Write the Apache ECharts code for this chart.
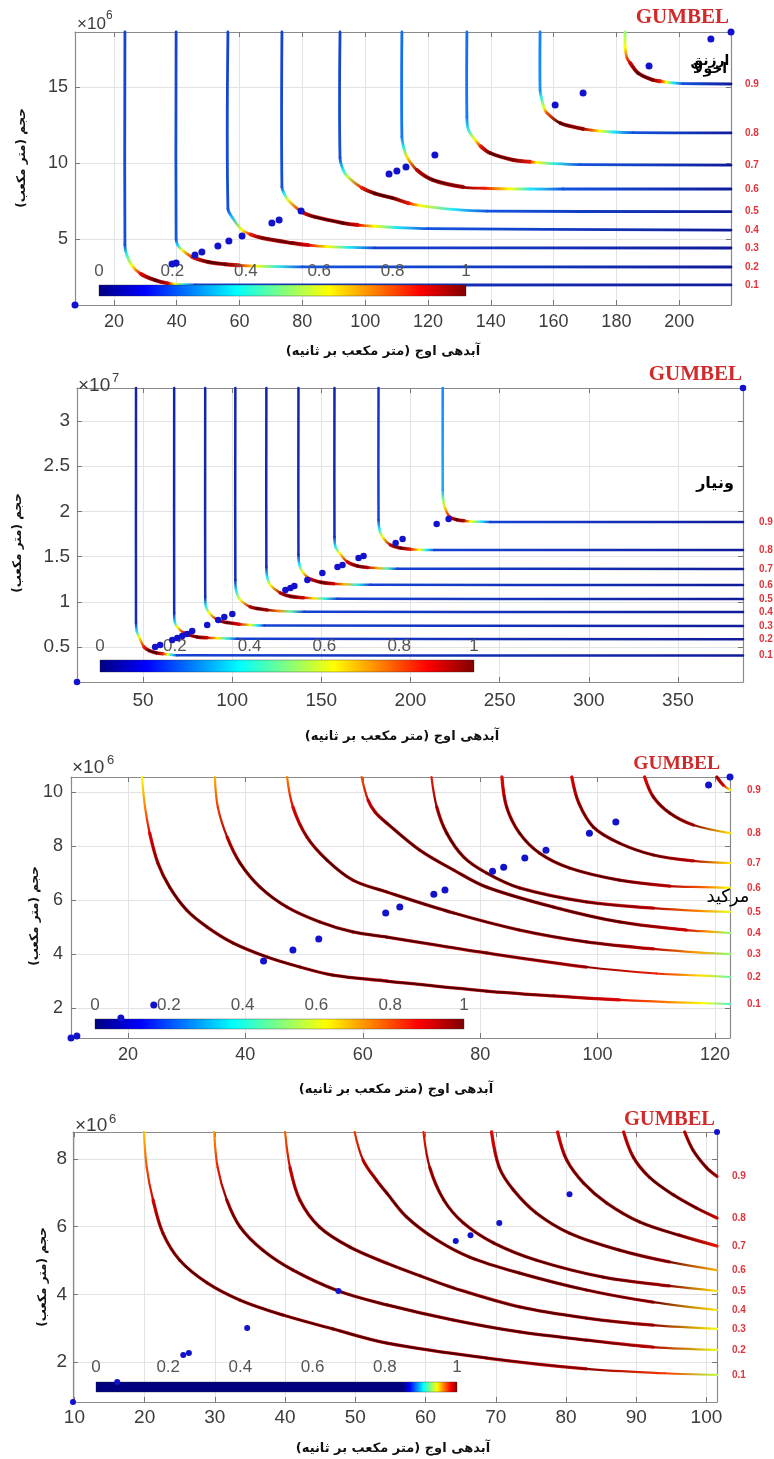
<!DOCTYPE html>
<html><head><meta charset="utf-8">
<script src="https://cdn.jsdelivr.net/npm/echarts@6/dist/echarts.min.js"></script>
<style>html,body{margin:0;padding:0;background:#fff}#c{width:774px;height:1459px}</style>
</head><body><div id="c"></div>
<script>
// ---------------- DATA ----------------
const LEVELS = ['0.1','0.2','0.3','0.4','0.5','0.6','0.7','0.8','0.9'];
const CB_TICKS = [0, 0.2, 0.4, 0.6, 0.8, 1];
const X_NAME = 'آبدهی اوج (متر مکعب بر ثانیه)';
const Y_NAME = 'حجم (متر مکعب)';

// Panel 1  (y in 10^6 m3) ; curve points: [x, y, colour value]
const P1_X_TICKS = [20,40,60,80,100,120,140,160,180,200];
const P1_Y_TICKS = [5,10,15];
const P1_POINTS = [[7.6,0.66],[38.5,3.36],[39.8,3.42],[45.8,3.95],[48.0,4.15],[53.1,4.54],[56.6,4.87],[60.8,5.2],[70.3,6.05],[72.6,6.25],[79.6,6.84],[107.6,9.28],[110.1,9.48],[113.0,9.74],[122.2,10.53],[160.5,13.82],[169.4,14.6],[190.4,16.38],[210.1,18.16],[216.5,18.62]];
const P1_CURVES = [
 [[23.5,18.62,.15],[23.5,4.6,.17],[24.0,4.0,.4],[25.8,3.23,.62],[28.6,2.70,.88],[33.1,2.30,1],[37.2,2.08,.9],[39.4,2.03,.62],[42.6,2.0,.38],[46,1.98,.15],[216.5,1.98,.05]],
 [[39.8,18.62,.15],[39.8,5.0,.18],[40.3,4.6,.35],[41.7,4.28,.6],[44.9,3.82,.85],[50.0,3.49,1],[55.4,3.34,.98],[60,3.27,.85],[65,3.22,.63],[72,3.19,.4],[80,3.17,.18],[216.5,3.16,.05]],
 [[56.3,18.62,.15],[56.3,7.0,.17],[57.6,6.45,.32],[60.8,5.59,.62],[63.5,5.3,.85],[67.2,5.07,.97],[76.7,4.74,.98],[82,4.6,.88],[88,4.5,.63],[95,4.45,.38],[103,4.42,.15],[216.5,4.41,.05]],
 [[73.5,18.62,.15],[73.5,8.42,.17],[74.2,8.0,.38],[75.4,7.57,.6],[79.9,6.78,.88],[84,6.45,1],[93,6.05,1],[97.7,5.92,.88],[103,5.84,.62],[110,5.76,.38],[120,5.68,.18],[216.5,5.59,.05]],
 [[92,18.62,.15],[92,10.33,.17],[93,9.55,.38],[94.5,9.08,.55],[99,8.36,.85],[103,8.0,1],[108.6,7.70,1],[114,7.35,.85],[117.5,7.2,.63],[128,6.95,.38],[138.8,6.84,.18],[216.5,6.8,.05]],
 [[111.7,18.62,.22],[111.7,11.71,.24],[112.3,11.0,.4],[113.3,10.4,.65],[116.5,9.54,.92],[121.6,8.88,1],[131.2,8.42,.95],[138,8.34,.85],[146.1,8.30,.62],[152.5,8.29,.38],[163,8.29,.18],[216.5,8.29,.05]],
 [[132.4,18.62,.22],[132.4,13.03,.24],[132.9,12.17,.4],[135.0,11.52,.62],[136.8,11.1,.85],[139.8,10.66,1],[147.1,10.2,.97],[152.5,10.08,.85],[154.7,10.04,.63],[160,9.96,.4],[168.4,9.9,.18],[216.5,9.86,.05]],
 [[155.7,18.62,.25],[155.7,14.8,.27],[156.1,14.3,.4],[157.0,13.6,.6],[157.9,13.29,.8],[162.1,12.63,1],[169.4,12.24,.95],[172,12.16,.8],[174.8,12.1,.62],[178.9,12.04,.38],[185.3,12.0,.18],[216.5,11.98,.05]],
 [[182.8,18.62,.5],[182.8,17.6,.62],[183.4,16.9,.8],[184.4,16.58,.9],[186.9,15.92,1],[191.7,15.46,.97],[194,15.38,.85],[196,15.32,.62],[198,15.27,.38],[201.2,15.23,.18],[216.5,15.2,.05]]
];

// Panel 2  (y in 10^7 m3)
const P2_X_TICKS = [50,100,150,200,250,300,350];
const P2_Y_TICKS = [0.5,1,1.5,2,2.5,3];
const P2_POINTS = [[13,0.113],[56.8,0.500],[59.6,0.522],[66.4,0.578],[69.2,0.600],[72.0,0.622],[74.8,0.644],[77.6,0.677],[86.0,0.744],[92.2,0.799],[95.6,0.832],[100.1,0.865],[129.9,1.131],[132.7,1.153],[134.9,1.175],[142.2,1.241],[150.6,1.319],[159.1,1.385],[161.9,1.407],[170.9,1.485],[173.7,1.507],[191.7,1.651],[195.6,1.695],[214.7,1.861],[221.4,1.916],[386.5,3.365]];
const P2_CURVES = [
 [[46.1,3.365,.08],[46.1,0.77,.1],[46.5,0.68,.35],[47.8,0.611,.6],[50.6,0.50,.85],[53.5,0.46,1],[57.5,0.435,1],[61,0.425,.85],[64,0.418,.6],[66,0.414,.38],[69.2,0.41,.15],[386.5,0.405,.05]],
 [[67.5,3.365,.08],[67.5,0.876,.1],[67.8,0.78,.35],[69.2,0.721,.6],[73.1,0.655,.88],[80.4,0.611,1],[86,0.603,.9],[91.7,0.598,.65],[97,0.594,.4],[102.9,0.591,.15],[386.5,0.585,.05]],
 [[84.9,3.365,.08],[84.9,1.053,.1],[85.3,0.95,.38],[87.2,0.876,.62],[91.7,0.799,.9],[97.3,0.77,1],[104,0.752,.88],[110.2,0.744,.6],[114,0.74,.38],[118.1,0.737,.15],[386.5,0.733,.05]],
 [[101.8,3.365,.08],[101.8,1.241,.1],[102.3,1.12,.38],[104.6,1.02,.62],[110.2,0.943,.92],[114.1,0.925,1],[119.7,0.909,.95],[126,0.898,.75],[132.7,0.892,.45],[140.5,0.889,.15],[386.5,0.887,.05]],
 [[119.2,3.365,.08],[119.2,1.385,.1],[119.7,1.27,.38],[121.4,1.186,.62],[127.0,1.098,.92],[132.7,1.06,1],[140,1.045,.9],[146,1.038,.65],[151.8,1.035,.4],[159.1,1.033,.15],[386.5,1.031,.05]],
 [[137.2,3.365,.08],[137.2,1.518,.1],[137.7,1.41,.38],[139.4,1.33,.62],[143.9,1.252,.9],[150,1.215,1],[157,1.2,.9],[163,1.194,.7],[170,1.19,.4],[177.6,1.188,.15],[386.5,1.186,.05]],
 [[157.4,3.365,.08],[157.4,1.717,.1],[157.9,1.61,.38],[160.2,1.54,.62],[164.7,1.44,.9],[170.3,1.396,1],[176,1.38,.92],[182,1.372,.7],[187.2,1.368,.42],[192.8,1.366,.15],[386.5,1.363,.05]],
 [[182.1,3.365,.12],[182.1,1.905,.15],[182.6,1.80,.38],[184.3,1.717,.62],[188.8,1.628,.92],[194.5,1.595,1],[200,1.582,.85],[205,1.575,.62],[209,1.574,.38],[213.6,1.573,.15],[386.5,1.573,.05]],
 [[218.1,3.365,.26],[218.1,2.237,.3],[218.4,2.12,.5],[219.2,2.049,.65],[222.0,1.938,.88],[226,1.908,1],[230,1.896,.92],[233.8,1.889,.62],[239.4,1.885,.38],[245,1.884,.15],[386.5,1.883,.05]]
];

// Panel 3  (y in 10^6 m3)
const P3_X_TICKS = [20,40,60,80,100,120];
const P3_Y_TICKS = [2,4,6,8,10];
const P3_POINTS = [[10.3,0.89],[11.3,0.96],[18.8,1.63],[24.4,2.11],[43.1,3.74],[48.1,4.15],[52.5,4.56],[63.9,5.52],[66.3,5.74],[72.1,6.22],[74.0,6.37],[82.1,7.07],[84.0,7.22],[87.6,7.56],[91.2,7.85],[98.6,8.48],[103.1,8.89],[118.9,10.26],[122.55,10.56]];
const P3_CURVES = [
 [[22.4,10.56,.62],[22.9,9.45,.75],[23.7,8.48,.88],[25.1,7.37,.97],[27.1,6.48,1],[30.0,5.63,1],[33.5,5.0,1],[37.9,4.41,1],[43.7,3.89,1],[49.3,3.52,1],[54.9,3.22,1],[64.1,3.0,1],[81.1,2.63,1],[92.5,2.45,.97],[103.7,2.30,.88],[112,2.22,.75],[118,2.18,.62],[122.55,2.15,.42]],
 [[34.8,10.56,.7],[35.3,9.45,.82],[36.9,8.33,.92],[39.1,7.37,1],[42.5,6.48,1],[47.1,5.74,1],[52.7,5.19,1],[58.3,4.82,1],[64.1,4.63,1],[81.1,4.04,1],[98.1,3.52,.95],[110,3.28,.85],[118,3.2,.65],[122.55,3.15,.45]],
 [[47.1,10.56,.75],[48.1,9.45,.88],[50.5,8.33,.97],[53.9,7.48,1],[58.3,6.74,1],[64.1,6.3,1],[75.5,5.52,1],[86.7,4.89,1],[98.1,4.45,1],[109.5,4.19,.92],[117,4.06,.72],[122.55,4.0,.5]],
 [[59.8,10.56,.8],[60.9,9.70,.9],[62.1,9.26,.95],[64.1,8.85,1],[69.7,7.85,1],[75.5,7.11,1],[81.1,6.48,1],[92.5,5.74,1],[103.7,5.19,1],[115.1,4.89,.9],[119,4.83,.72],[122.55,4.78,.5]],
 [[71.7,10.56,.85],[72.6,9.45,.95],[74.3,8.48,1],[77.2,7.59,1],[81.1,7.0,1],[86.7,6.45,1],[98.1,5.93,1],[109.5,5.70,.92],[117,5.6,.75],[122.55,5.56,.6]],
 [[83.7,10.56,.87],[84.5,9.45,.97],[86.7,8.48,1],[90.1,7.74,1],[95.2,7.19,1],[103.7,6.74,1],[112.3,6.52,.92],[118,6.48,.78],[122.55,6.45,.62]],
 [[95.6,10.56,.88],[96.8,9.59,.97],[99.3,8.70,1],[103.7,8.11,1],[109.5,7.67,1],[116.3,7.45,.92],[122.55,7.37,.65]],
 [[108.0,10.56,.88],[109.5,9.82,.97],[112.3,9.22,1],[116.3,8.78,.95],[122.55,8.48,.65]],
 [[120.3,10.56,.95],[121.4,10.26,.9],[122.55,10.08,.62]]
];

// Panel 4  (y in 10^6 m3)
const P4_X_TICKS = [10,20,30,40,50,60,70,80,90,100];
const P4_Y_TICKS = [2,4,6,8];
const P4_POINTS = [[9.8,0.82],[16.1,1.41],[25.5,2.21],[26.3,2.27],[34.6,3.01],[47.6,4.10],[64.3,5.58],[66.4,5.75],[70.5,6.11],[80.5,6.96],[101.5,8.8]];
const P4_CURVES = [
 [[19.9,8.80,.68],[20.3,7.75,.8],[21.2,6.79,.9],[22.6,5.81,.97],[25.0,5.01,1],[28.9,4.34,1],[33.6,3.83,1],[39.7,3.39,1],[46.8,2.98,1],[54.5,2.56,1],[68.7,2.12,1],[82.9,1.8,.95],[94,1.67,.82],[101.5,1.62,.55]],
 [[29.9,8.80,.72],[30.4,7.75,.85],[31.7,6.79,.95],[33.6,5.99,1],[36.8,5.31,1],[41.1,4.72,1],[47.6,4.10,1],[54.5,3.69,1],[64.0,3.24,1],[73.4,2.89,1],[82.9,2.65,1],[92.4,2.44,.92],[101.5,2.36,.6]],
 [[40.0,8.80,.78],[40.7,7.75,.9],[42.1,6.79,.97],[44.9,5.99,1],[49.2,5.40,1],[54.5,4.92,1],[59.2,4.55,1],[64.0,4.19,1],[73.4,3.63,1],[82.9,3.30,1],[92.4,3.09,.95],[101.5,2.98,.62]],
 [[49.9,8.80,.82],[51.1,7.97,.92],[53.0,7.38,.97],[54.5,6.99,1],[57.3,6.29,1],[61.6,5.61,1],[66.3,5.10,1],[73.4,4.63,1],[82.9,4.13,1],[92.4,3.77,.97],[101.5,3.54,.65]],
 [[59.7,8.80,.85],[60.6,7.75,.95],[62.6,6.79,1],[65.4,6.11,1],[69.7,5.52,1],[75.8,5.01,1],[85.3,4.51,1],[94.7,4.25,.95],[101.5,4.10,.65]],
 [[69.4,8.80,.87],[70.5,7.75,.97],[72.5,7.09,1],[75.8,6.40,1],[80.5,5.81,1],[87.6,5.31,1],[94.7,4.96,.97],[101.5,4.72,.7]],
 [[78.8,8.80,.88],[80.1,7.97,.97],[82.5,7.29,1],[85.8,6.70,1],[90.5,6.14,1],[96.1,5.75,1],[101.5,5.43,.85]],
 [[88.2,8.80,.9],[89.6,8.05,.97],[91.9,7.46,1],[95.3,6.94,1],[98.6,6.55,1],[101.5,6.26,.9]],
 [[96.9,8.80,.92],[98.1,8.26,1],[100.0,7.75,1],[101.5,7.49,.95]]
];

// ---------------- STYLE / LAYOUT ----------------
const JET = ['#000080','#0000ff','#0080ff','#00ffff','#80ff80','#ffff00','#ff8000','#ff0000','#800000'];
const JET_LINE = ['#0c0c7a','#1632c8','#1080ff','#20e8ff','#90ff70','#ffff00','#ff8000','#e80000','#500000'];
const JET_STOPS = JET.map((c,i)=>({offset:i/8,color:c}));
const JET_STOPS_4 = [{offset:0,color:'#000080'},{offset:0.85,color:'#000080'}].concat(JET.slice(1).map((c,i)=>({offset:0.85+0.15*(i+1)/8,color:c})));
function lineColor(v){ return echarts.color.lerp(Math.max(0,Math.min(1,v)), JET_LINE); }

const PANELS = [
 {xt:P1_X_TICKS, yt:P1_Y_TICKS, pts:P1_POINTS, curves:P1_CURVES,
  grid:{left:75,top:32,width:656,height:273}, fs:18, lw:2.8, dot:7, lblDx:14, xm:8, ym:7,
  cb:{x:99,y:285,w:367,h:11,ly:271,stops:JET_STOPS},
  gumbel:{x:729,y:18,size:21}, exp:{x:77,y:24,s:'6',sx:106,sy:16,fs:17},
  xname:{x:383,y:352}, yname:{x:22,y:158},
  station:[{t:'ارزنق',x:710,y:61,fs:14,w:'bold'},{t:'اخولا',x:710,y:69,fs:14,w:'bold'}]},
 {xt:P2_X_TICKS, yt:P2_Y_TICKS, pts:P2_POINTS, curves:P2_CURVES,
  grid:{left:77,top:388,width:666,height:294}, fs:19, lw:2.5, dot:6.5, lblDx:16, xm:9, ym:7,
  cb:{x:100,y:660,w:374,h:12,ly:646,stops:JET_STOPS},
  gumbel:{x:742,y:375,size:21}, exp:{x:78,y:386,s:'7',sx:112,sy:378,fs:19},
  xname:{x:402,y:737}, yname:{x:18,y:543},
  station:[{t:'ونیار',x:715,y:484,fs:16,w:'bold'}]},
 {xt:P3_X_TICKS, yt:P3_Y_TICKS, pts:P3_POINTS, curves:P3_CURVES,
  grid:{left:71,top:777,width:659,height:261}, fs:18, lw:2.2, dot:7, lblDx:17, xm:8, ym:8,
  cb:{x:95,y:1019,w:369,h:10,ly:1005,stops:JET_STOPS},
  gumbel:{x:720,y:764,size:19.5}, exp:{x:72,y:768,s:'6',sx:107,sy:760,fs:19},
  xname:{x:396,y:1090}, yname:{x:35,y:916},
  station:[{t:'مرکید',x:728,y:897,fs:18,w:'normal'}]},
 {xt:P4_X_TICKS, yt:P4_Y_TICKS, pts:P4_POINTS, curves:P4_CURVES,
  grid:{left:73,top:1132,width:644,height:270}, fs:19, lw:2.2, dot:6, lblDx:15, xm:6, ym:6,
  cb:{x:96,y:1382,w:361,h:10,ly:1367,stops:JET_STOPS_4},
  gumbel:{x:715,y:1120,size:20.5}, exp:{x:75,y:1126,s:'6',sx:109,sy:1119,fs:19},
  xname:{x:393,y:1449}, yname:{x:43,y:1277},
  station:[]}
];

const AXIS_C = '#8a8a8a', LABEL_C = '#3c3c3c', GRID_C = '#e3e3e3';
const chart = echarts.init(document.getElementById('c'));

function makeRender(P){
  return function(params, api){
    const k = api.value(0);
    const curve = P.curves[k];
    const pts = curve.map(p=>api.coord([p[0],p[1]]));
    const n = pts.length, sm = 0.35;
    const cpB = [], cpA = [];
    for (let i=0;i<n;i++){
      if (i===0||i===n-1){cpB[i]=pts[i];cpA[i]=pts[i];continue;}
      const pr=pts[i-1], cu=pts[i], nx=pts[i+1];
      const vx=nx[0]-pr[0], vy=nx[1]-pr[1];
      const l0=Math.hypot(cu[0]-pr[0],cu[1]-pr[1]), l1=Math.hypot(nx[0]-cu[0],nx[1]-cu[1]);
      const r=l1/(l0+l1);
      cpB[i]=[cu[0]-vx*sm*(1-r), cu[1]-vy*sm*(1-r)];
      cpA[i]=[cu[0]+vx*sm*r, cu[1]+vy*sm*r];
    }
    const under=[], main=[];
    for (let i=0;i<n-1;i++){
      const a=pts[i], b=pts[i+1];
      const ca=curve[i][2], cb=curve[i+1][2];
      const shape={x1:a[0],y1:a[1],x2:b[0],y2:b[1],cpx1:cpA[i][0],cpy1:cpA[i][1],cpx2:cpB[i+1][0],cpy2:cpB[i+1][1]};
      if ((ca+cb)/2 > 0.9){
        under.push({type:'bezierCurve',shape:Object.assign({},shape),
          style:{fill:null,stroke:'#d81818',lineWidth:P.lw+1.1,lineCap:'round'}});
      }
      main.push({type:'bezierCurve',shape:shape,
        style:{fill:null,lineWidth:P.lw,lineCap:'round',
          stroke:{type:'linear',x:a[0],y:a[1],x2:b[0],y2:b[1],global:true,
            colorStops:[{offset:0,color:lineColor(ca)},{offset:1,color:lineColor(cb)}]}}});
    }
    const last=pts[n-1];
    const label={type:'text',x:last[0]+P.lblDx,y:last[1],
      style:{text:LEVELS[k],fill:'#e2343c',fontSize:10,fontWeight:'bold',fontFamily:'Liberation Sans',align:'left',verticalAlign:'middle'}};
    return {type:'group',children:under.concat(main,[label])};
  };
}

const grids=[], xAxes=[], yAxes=[], series=[], graphics=[];
PANELS.forEach((P,i)=>{
  const xs=P.pts.map(p=>p[0]), ys=P.pts.map(p=>p[1]);
  const xMin=Math.min(...xs), xMax=Math.max(...xs), yMin=Math.min(...ys), yMax=Math.max(...ys);
  grids.push(Object.assign({containLabel:false,show:false}, P.grid));
  const tick={show:true,inside:true,length:5,lineStyle:{color:'#777',width:1}};
  xAxes.push({gridIndex:i,type:'value',min:xMin,max:xMax,position:'bottom',
    axisLine:{show:true,onZero:false,lineStyle:{color:AXIS_C,width:1.2}},
    axisTick:Object.assign({customValues:P.xt},tick),
    axisLabel:{customValues:P.xt,color:LABEL_C,fontSize:P.fs,fontFamily:'Liberation Sans',margin:P.xm},
    splitLine:{show:true,lineStyle:{color:GRID_C,width:1}}});
  xAxes.push({gridIndex:i,type:'value',min:xMin,max:xMax,position:'top',
    axisLine:{show:true,onZero:false,lineStyle:{color:AXIS_C,width:1.2}},
    axisTick:Object.assign({customValues:P.xt},tick),
    axisLabel:{show:false},splitLine:{show:false}});
  yAxes.push({gridIndex:i,type:'value',min:yMin,max:yMax,position:'left',
    axisLine:{show:true,onZero:false,lineStyle:{color:AXIS_C,width:1.2}},
    axisTick:Object.assign({customValues:P.yt},tick),
    axisLabel:{customValues:P.yt,color:LABEL_C,fontSize:P.fs,fontFamily:'Liberation Sans',margin:P.ym},
    splitLine:{show:true,lineStyle:{color:GRID_C,width:1}}});
  yAxes.push({gridIndex:i,type:'value',min:yMin,max:yMax,position:'right',
    axisLine:{show:true,onZero:false,lineStyle:{color:AXIS_C,width:1.2}},
    axisTick:Object.assign({customValues:P.yt},tick),
    axisLabel:{show:false},splitLine:{show:false}});

  series.push({type:'custom',xAxisIndex:2*i,yAxisIndex:2*i,z:2,clip:false,silent:true,
    renderItem:makeRender(P), data:P.curves.map((c,k)=>[k])});
  series.push({type:'scatter',xAxisIndex:2*i,yAxisIndex:2*i,z:5,clip:false,silent:true,
    symbolSize:P.dot,itemStyle:{color:'#1212cc',opacity:1},data:P.pts});

  // colour bar
  graphics.push({type:'rect',z:3,silent:true,shape:{x:P.cb.x,y:P.cb.y,width:P.cb.w,height:P.cb.h},
    style:{fill:{type:'linear',x:0,y:0,x2:1,y2:0,colorStops:P.cb.stops},stroke:'rgba(40,40,40,0.6)',lineWidth:0.6}});
  CB_TICKS.forEach(t=>{
    graphics.push({type:'text',z:3,silent:true,x:P.cb.x+t*P.cb.w,y:P.cb.ly,
      style:{text:String(t),fill:'#555',fontSize:17,fontFamily:'Liberation Sans',align:'center',verticalAlign:'middle'}});
  });
  // titles & texts
  graphics.push({type:'text',z:6,silent:true,x:P.gumbel.x,y:P.gumbel.y,
    style:{text:'GUMBEL',fill:'#d02a2a',fontSize:P.gumbel.size,fontWeight:'bold',fontFamily:'Liberation Serif',align:'right',verticalAlign:'middle'}});
  graphics.push({type:'text',z:6,silent:true,x:P.exp.x,y:P.exp.y,
    style:{text:'×10',fill:LABEL_C,fontSize:P.exp.fs,fontFamily:'Liberation Sans',align:'left',verticalAlign:'middle'}});
  graphics.push({type:'text',z:6,silent:true,x:P.exp.sx,y:P.exp.sy,
    style:{text:P.exp.s,fill:LABEL_C,fontSize:Math.round(P.exp.fs*0.68),fontFamily:'Liberation Sans',align:'left',verticalAlign:'middle'}});
  graphics.push({type:'text',z:6,silent:true,x:P.xname.x,y:P.xname.y,
    style:{text:X_NAME,fill:'#111',fontSize:13,fontWeight:'bold',fontFamily:'DejaVu Sans',align:'center',verticalAlign:'middle'}});
  graphics.push({type:'text',z:6,silent:true,x:P.yname.x,y:P.yname.y,rotation:Math.PI/2,
    style:{text:Y_NAME,fill:'#111',fontSize:12,fontWeight:'bold',fontFamily:'DejaVu Sans',align:'center',verticalAlign:'middle'}});
  P.station.forEach(s=>{
    graphics.push({type:'text',z:6,silent:true,x:s.x,y:s.y,
      style:{text:s.t,fill:'#000',fontSize:s.fs,fontWeight:s.w,fontFamily:'DejaVu Sans',align:'center',verticalAlign:'middle'}});
  });
});

chart.setOption({
  animation:false,
  backgroundColor:'#ffffff',
  grid:grids, xAxis:xAxes, yAxis:yAxes, series:series, graphic:graphics
});
</script>
</body></html>
